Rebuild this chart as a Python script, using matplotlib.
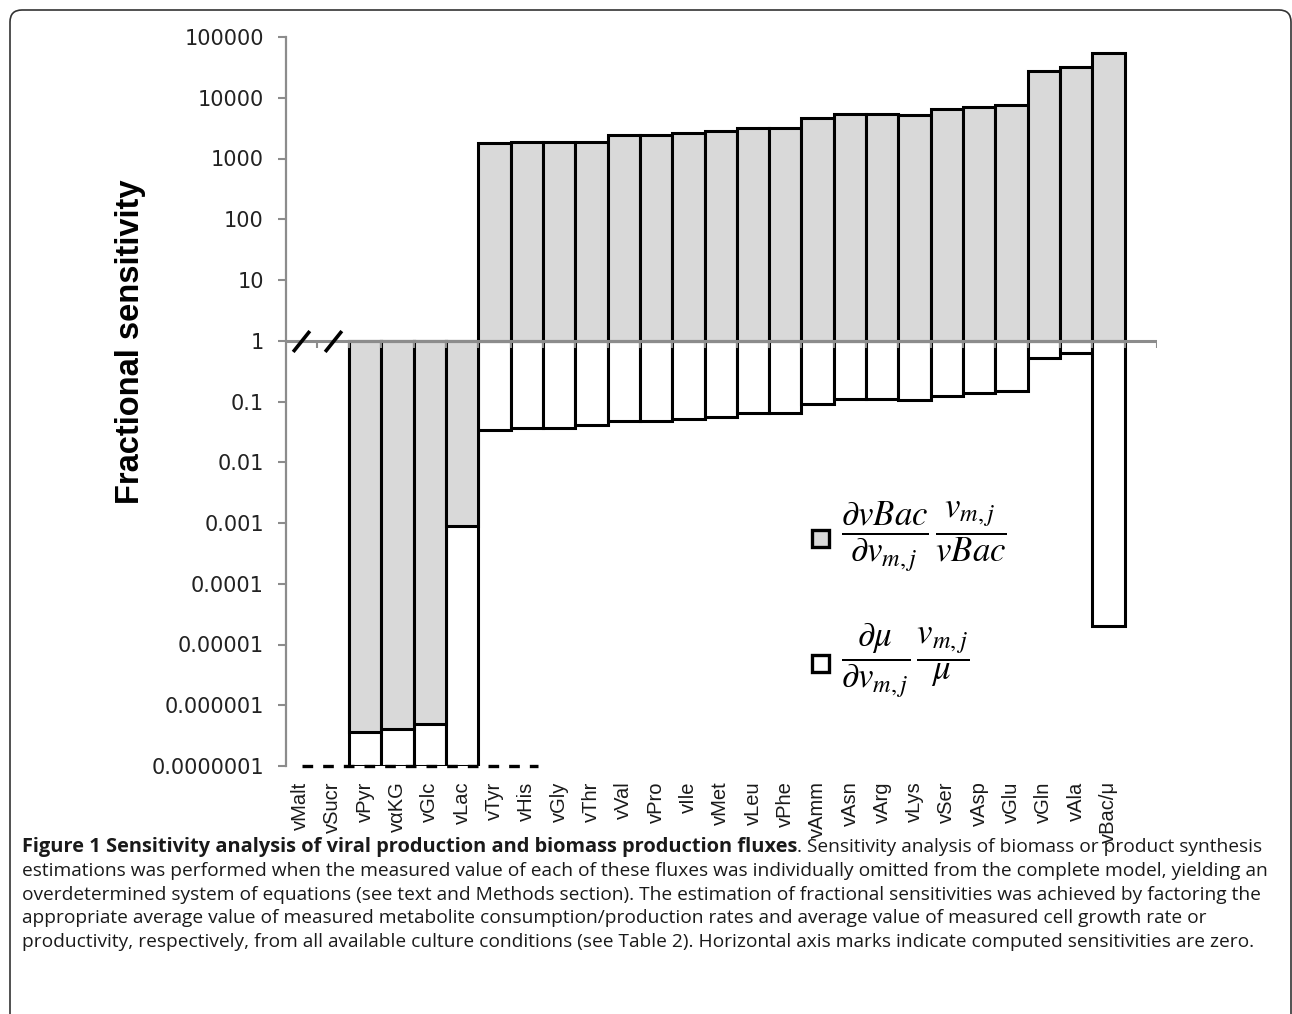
import numpy as np
import matplotlib.pyplot as plt
from matplotlib.patches import FancyBboxPatch, Rectangle
from matplotlib.ticker import NullLocator

plt.rcParams['mathtext.fontset'] = 'stix'

fluxes = ['vMalt', 'vSucr', 'vPyr', 'vαKG', 'vGlc', 'vLac', 'vTyr', 'vHis', 'vGly',
          'vThr', 'vVal', 'vPro', 'vIle', 'vMet', 'vLeu', 'vPhe', 'vAmm', 'vAsn',
          'vArg', 'vLys', 'vSer', 'vAsp', 'vGlu', 'vGln', 'vAla', 'vBac/μ']
# fractional sensitivity of vBac (grey) and of mu (white); 0 = computed as zero
bac_sens = [0, 0, 3.6e-7, 4.0e-7, 4.9e-7, 9e-4, 1800, 1900, 1850, 1900, 2400, 2400,
            2600, 2800, 3200, 3200, 4700, 5400, 5400, 5300, 6500, 7000, 7500,
            27500, 31500, 55000]
mu_sens = [0, 0, 0, 0, 0, 0, 0.034, 0.037, 0.037, 0.041, 0.048, 0.048, 0.051, 0.055,
           0.065, 0.065, 0.092, 0.11, 0.11, 0.105, 0.125, 0.14, 0.15, 0.52, 0.63, 2e-5]
ytick_vals = [1e-7, 1e-6, 1e-5, 1e-4, 1e-3, 1e-2, 1e-1, 1, 10, 100, 1000, 10000, 100000]
ytick_labels = ['0.0000001', '0.000001', '0.00001', '0.0001', '0.001', '0.01', '0.1',
                '1', '10', '100', '1000', '10000', '100000']

caption_bold = 'Figure 1 Sensitivity analysis of viral production and biomass production fluxes'
caption_lines = [
    '. Sensitivity analysis of biomass or product synthesis',
    'estimations was performed when the measured value of each of these fluxes was individually omitted from the complete model, yielding an',
    'overdetermined system of equations (see text and Methods section). The estimation of fractional sensitivities was achieved by factoring the',
    'appropriate average value of measured metabolite consumption/production rates and average value of measured cell growth rate or',
    'productivity, respectively, from all available culture conditions (see Table 2). Horizontal axis marks indicate computed sensitivities are zero.',
]

W, H = 1292, 1014
GREY = '#8c8c8c'
fig = plt.figure(figsize=(W / 100, H / 100), dpi=100)

# outer rounded frame
fig.patches.append(FancyBboxPatch((0.10, -0.5), 12.81, 10.54,
                                  boxstyle='round,pad=0,rounding_size=0.12',
                                  transform=fig.dpi_scale_trans, fill=False,
                                  ec='#333333', lw=1.2))

ax = fig.add_axes([286 / W, 1 - 766 / H, (1157 - 286) / W, (766 - 37) / H])
ax.set_yscale('log')
ax.set_ylim(1e-7, 1e5)
ax.set_xlim(-0.45, 26.5)

x = np.arange(len(fluxes))
bac = np.array(bac_sens)
mu = np.array(mu_sens)
drawn = bac > 0
mu_plot = np.where(mu > 0, mu, 1e-7)

ax.bar(x[drawn], mu_plot[drawn] - 1, bottom=1, width=1.0, color='white',
       edgecolor='black', linewidth=2.2, zorder=2)
ax.bar(x[drawn], bac[drawn] - 1, bottom=1, width=1.0, color='#d9d9d9',
       edgecolor='black', linewidth=2.2, zorder=3)

# horizontal axis through 1
ax.axhline(1, color=GREY, lw=2.2, zorder=5)
ax.vlines(np.arange(0.5, 26.6, 1), 10 ** (-7 / 60.75), 1, color=GREY, lw=1.5, zorder=6)

# zero marks
ax.plot(x[~drawn], np.ones((~drawn).sum()), ls='none', marker=[(-0.8, -1), (0.8, 1)],
        ms=15, mew=2.6, mec='black', zorder=7, clip_on=False)
ax.hlines(1e-7, 0.05, 7.35, colors='black', lw=2.4, linestyles=(0, (3.2, 3.0)),
          zorder=7, clip_on=False)

for s in ['top', 'right', 'bottom']:
    ax.spines[s].set_visible(False)
ax.spines['left'].set_color(GREY)
ax.spines['left'].set_linewidth(1.6)

ax.set_yticks(ytick_vals)
ax.set_yticklabels(ytick_labels)
ax.yaxis.set_minor_locator(NullLocator())
ax.tick_params(axis='y', direction='out', length=6, width=1.5, color=GREY,
               labelsize=15, labelcolor='#222222', pad=10)
ax.set_xticks(x)
ax.set_xticklabels(fluxes, rotation=90, fontfamily='Liberation Sans', fontsize=14.5,
                   color='#1a1a1a')
ax.tick_params(axis='x', length=0, pad=11)

fig.text(131 / W, 1 - 342 / H, 'Fractional sensitivity', rotation=90, ha='center',
         va='center', fontsize=23.5, fontweight='bold', family='Liberation Sans')

# legend
fig.patches.append(Rectangle((812 / W, 1 - 547 / H), 17 / W, 17 / H,
                             transform=fig.transFigure, fc='#d9d9d9', ec='black', lw=2.4))
fig.patches.append(Rectangle((812 / W, 1 - 672 / H), 17 / W, 17 / H,
                             transform=fig.transFigure, fc='white', ec='black', lw=2.4))
fig.text(841 / W, 1 - 537 / H,
         r'$\dfrac{\partial vBac}{\partial v_{m,j}}\,\dfrac{v_{m,j}}{vBac}$',
         fontsize=25, ha='left', va='center')
fig.text(841 / W, 1 - 660 / H,
         r'$\dfrac{\partial \mu}{\partial v_{m,j}}\,\dfrac{v_{m,j}}{\mu}$',
         fontsize=25, ha='left', va='center')

# caption
cap_kw = dict(family='Open Sans', color='#1a1a1a')
t1 = fig.text(22 / W, 1 - 847 / H, caption_bold, weight='bold', va='center',
              fontsize=14.4, **cap_kw)
ax.annotate(caption_lines[0], xy=(1, 0.5), xycoords=t1, va='center', ha='left',
            fontsize=13.8, **cap_kw)
for i, line in enumerate(caption_lines[1:]):
    fig.text(22 / W, 1 - (871 + 23.7 * i) / H, line, va='center', ha='left',
             fontsize=13.8, **cap_kw)

fig.savefig('out.png', dpi=100)
